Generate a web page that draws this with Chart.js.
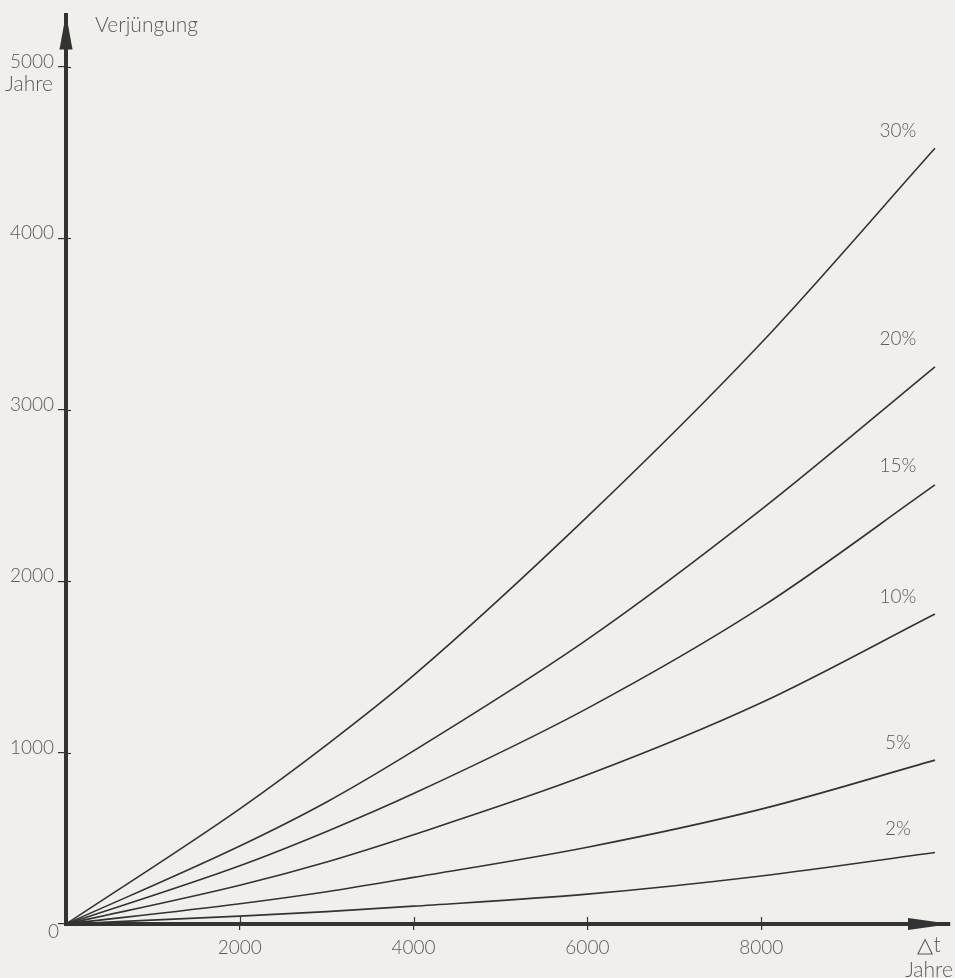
<!DOCTYPE html>
<html>
<head>
<meta charset="utf-8">
<script src="https://cdn.jsdelivr.net/npm/chart.js@4/dist/chart.umd.min.js"></script>
<style>
  html, body { margin: 0; padding: 0; background: #f0efec; }
  #wrap { position: relative; width: 955px; height: 978px; }
</style>
</head>
<body>
<div id="wrap"><canvas id="c"></canvas></div>
<script>
// Alter der Probe (Δt, Jahre) und die Verjüngung je Anteil an Fremdkohlenstoff
const years = [0, 2000, 3000, 4000, 6000, 8000, 10000];
const p30 = [0, 672, 1045, 1450, 2376, 3389, 4525];
const p20 = [0, 455, 712, 1010, 1660, 2417, 3250];
const p15 = [0, 340, 540, 761, 1258, 1848, 2561];
const p10 = [0, 226, 362, 521, 870, 1290, 1808];
const p5  = [0, 118, 188, 272, 448, 670, 956];
const p2  = [0, 46, 72, 104, 174, 280, 417];
const seriesLabels = ['30%', '20%', '15%', '10%', '5%', '2%'];
const xTicks = [2000, 4000, 6000, 8000];
const yTicks = [0, 1000, 2000, 3000, 4000, 5000];

const INK = '#333333';
const TEXT = '#5a5a5a';
const FONT = "Lato, 'DejaVu Sans', sans-serif";

const allSeries = [p30, p20, p15, p10, p5, p2];
const datasets = allSeries.map((vals, i) => ({
  label: seriesLabels[i],
  data: years.map((t, k) => ({ x: t, y: vals[k] })),
  borderColor: INK,
  borderWidth: 1.6,
  pointRadius: 0,
  fill: false,
  cubicInterpolationMode: 'monotone'
}));

// Vertical offsets of the percent labels above each curve end
const labelLift = [17, 28, 19, 17, 17, 24];

const decor = {
  id: 'decor',
  afterDraw(chart) {
    const ctx = chart.ctx;
    const { left, right, top, bottom } = chart.chartArea;
    const xs = chart.scales.x, ys = chart.scales.y;
    ctx.save();
    // arrow heads on both axes
    ctx.fillStyle = INK;
    ctx.beginPath();
    ctx.moveTo(left, top - 2);
    ctx.lineTo(left - 6.5, top + 34);
    ctx.lineTo(left + 6.5, top + 34);
    ctx.closePath();
    ctx.fill();
    ctx.beginPath();
    ctx.moveTo(right + 1, bottom);
    ctx.lineTo(right - 42, bottom - 6);
    ctx.lineTo(right - 42, bottom + 6);
    ctx.closePath();
    ctx.fill();

    // short tick stubs reaching inside the axes
    ctx.strokeStyle = INK;
    ctx.lineWidth = 1.2;
    yTicks.forEach(v => {
      if (v === 0) return;
      const py = Math.round(ys.getPixelForValue(v)) + 0.5;
      ctx.beginPath();
      ctx.moveTo(left, py);
      ctx.lineTo(left + 5, py);
      ctx.stroke();
    });
    xTicks.forEach(v => {
      const px = Math.round(xs.getPixelForValue(v)) + 0.5;
      ctx.beginPath();
      ctx.moveTo(px, bottom);
      ctx.lineTo(px, bottom - 7);
      ctx.stroke();
    });

    ctx.fillStyle = TEXT;
    ctx.textBaseline = 'middle';
    ctx.font = '300 21px ' + FONT;
    ctx.textAlign = 'left';
    ctx.fillText('Verjüngung', left + 29, 25);
    ctx.textAlign = 'right';
    ctx.fillText('Jahre', left - 13, ys.getPixelForValue(5000) + 17);
    ctx.font = '300 19px ' + FONT;
    ctx.fillText('0', left - 7, ys.getPixelForValue(0) + 8);
    ctx.textAlign = 'center';
    ctx.font = '300 21px ' + FONT;
    ctx.fillText('\u25B3t', right - 21, bottom + 21);
    ctx.fillText('Jahre', right - 21, bottom + 46);

    // percent labels at the curve ends
    ctx.font = '300 19px ' + FONT;
    const last = years.length - 1;
    allSeries.forEach((vals, i) => {
      const px = xs.getPixelForValue(years[last]) - 37;
      const py = ys.getPixelForValue(vals[last]) - labelLift[i];
      ctx.fillText(seriesLabels[i], px, py);
    });
    ctx.restore();
  }
};

new Chart(document.getElementById('c'), {
  type: 'line',
  data: { datasets },
  plugins: [decor],
  options: {
    responsive: true,
    maintainAspectRatio: false,
    animation: false,
    layout: { padding: { top: 8, right: 5, left: 0, bottom: 0 } },
    plugins: { legend: { display: false }, tooltip: { enabled: false } },
    scales: {
      x: {
        type: 'linear',
        min: 0,
        max: 10173,
        afterFit(scale) { scale.height = 54; },
        afterBuildTicks(scale) { scale.ticks = xTicks.map(v => ({ value: v })); },
        grid: { display: true, drawOnChartArea: false, drawTicks: true, tickLength: 6, color: INK, lineWidth: 1.2 },
        border: { display: true, color: INK, width: 4 },
        ticks: {
          color: TEXT, padding: 6, maxRotation: 0,
          font: { family: FONT, size: 19, weight: '300' },
          callback: v => String(v)
        }
      },
      y: {
        type: 'linear',
        min: 0,
        max: 5300,
        afterFit(scale) { scale.width = 66; },
        afterBuildTicks(scale) { scale.ticks = yTicks.map(v => ({ value: v })); },
        grid: { display: true, drawOnChartArea: false, drawTicks: true, tickLength: 8, color: INK, lineWidth: 1.2 },
        border: { display: true, color: INK, width: 4 },
        ticks: {
          color: TEXT, padding: 4, labelOffset: -5,
          font: { family: FONT, size: 19, weight: '300' },
          callback: v => (v === 0 ? '' : String(v))
        }
      }
    }
  }
});
</script>
</body>
</html>
